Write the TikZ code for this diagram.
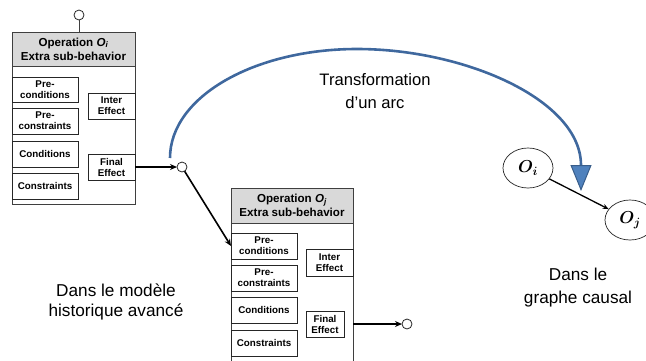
\documentclass[tikz,border=0pt]{standalone}
\usepackage{fontspec}
\setmainfont{Liberation Sans}
\usepackage{bm}
\usetikzlibrary{arrows.meta,shapes.geometric}
\definecolor{linegray}{HTML}{3F3F3F}
\definecolor{hdrgray}{HTML}{D9D9D9}
\definecolor{arcblue}{HTML}{3F689E}
\definecolor{tipblue}{HTML}{4F81BD}
\definecolor{tipedge}{HTML}{385D8A}
\tikzset{
  obox/.style={draw=linegray, line width=0.8pt, inner sep=0pt, outer sep=0pt, anchor=north west, fill=white},
  hdr/.style={obox, fill=hdrgray, align=center, font=\fontsize{11.6}{14}\selectfont\bfseries},
  ibox/.style={obox, draw=black!85, align=center, font=\fontsize{9.8}{11}\selectfont\bfseries},
  port/.style={circle, draw=black!85, line width=0.8pt, fill=white, minimum size=10pt, inner sep=0pt, outer sep=0pt},
  conn/.style={black, line width=1.6pt, -{Stealth[length=7pt,width=6pt]}},
  bigtxt/.style={align=center, font=\fontsize{17.2}{21}\selectfont},
  cnode/.style={ellipse, draw=black!85, line width=0.7pt, minimum width=50pt, minimum height=40pt, inner sep=0pt, font=\fontsize{17}{20}\selectfont}
}
\begin{document}
\begin{tikzpicture}[x=1pt,y=-1pt]
\useasboundingbox (0,0) rectangle (646,360);
\clip (0,0) rectangle (646,360);

% ---- Box A (Operation O_i)
\node[obox, minimum width=123pt, minimum height=172pt] (A) at (12,32) {};
\node[hdr, minimum width=123pt, minimum height=34pt] (Ah) at (12,32) {Operation \textit{O}\textsubscript{\textit{i}}\\Extra sub-behavior};
\node[ibox, minimum width=66pt, minimum height=25pt] (Apc) at (12,77) {Pre-\\conditions};
\node[ibox, minimum width=66pt, minimum height=26pt] (Apk) at (12,108) {Pre-\\constraints};
\node[ibox, minimum width=66pt, minimum height=26pt] (Ac) at (12,141) {Conditions};
\node[ibox, minimum width=66pt, minimum height=26pt] (Ak) at (12,173) {Constraints};
\node[ibox, minimum width=47pt, minimum height=26pt] (Aie) at (88,93) {Inter\\Effect};
\node[ibox, minimum width=47pt, minimum height=26pt] (Afe) at (88,154) {Final\\Effect};
\node[port] (c1) at (79,15) {};
\draw[linegray, line width=0.8pt] (c1) -- (c1 |- Ah.north);

% ---- Box B (Operation O_j)
\node[obox, minimum width=122pt, minimum height=180pt] (B) at (231,188) {};
\node[hdr, minimum width=122pt, minimum height=35pt] (Bh) at (231,188) {Operation \textit{O}\textsubscript{\textit{j}}\\Extra sub-behavior};
\node[ibox, minimum width=66pt, minimum height=26pt] (Bpc) at (231,233) {Pre-\\conditions};
\node[ibox, minimum width=66pt, minimum height=26pt] (Bpk) at (231,265) {Pre-\\constraints};
\node[ibox, minimum width=66pt, minimum height=26pt] (Bc) at (231,297) {Conditions};
\node[ibox, minimum width=66pt, minimum height=26pt] (Bk) at (231,330) {Constraints};
\node[ibox, minimum width=47pt, minimum height=27pt] (Bie) at (306,249) {Inter\\Effect};
\node[ibox, minimum width=38pt, minimum height=26pt] (Bfe) at (306,311) {Final\\Effect};

% ---- ports and connectors
\node[port] (c2) at (182,167) {};
\node[port] (c3) at (407,324) {};
\draw[conn] (Afe.east) -- (c2);
\draw[conn] (c2) -- (Bpc.west);
\coordinate (Bo) at (Bfe.east -| B.east);
\draw[conn] (Bo) -- (c3);

% ---- causal graph
\node[cnode] (Oi) at (528,168) {$\bm{O_i}$};
\node[cnode] (Oj) at (630,220) {$\bm{O_j}$};
\draw[black, line width=1.3pt, -{Stealth[length=6pt,width=5pt]}] (Oi) -- (Oj);

% ---- transformation arc
\coordinate (arcS) at (170,158);
\coordinate (arcE) at (581,191);
\draw[arcblue, line width=2.6pt, -{Triangle[width=21pt,length=26pt,fill=tipblue,line width=1pt,color=tipedge]}]
  (arcS) .. controls (170,97) and (254,49) .. (357,49)
         .. controls (465,49) and (581,100) .. (arcE);

% ---- texts
\node[bigtxt, font=\fontsize{16.6}{23}\selectfont] (tr) at (375,91) {Transformation\\d'un arc};
\node[bigtxt, font=\fontsize{17.2}{20}\selectfont] (hist) at (116,302) {Dans le modèle\\historique avancé};
\node[bigtxt, font=\fontsize{17.2}{23}\selectfont] (caus) at (578,288) {Dans le\\graphe causal};
\end{tikzpicture}
\end{document}
